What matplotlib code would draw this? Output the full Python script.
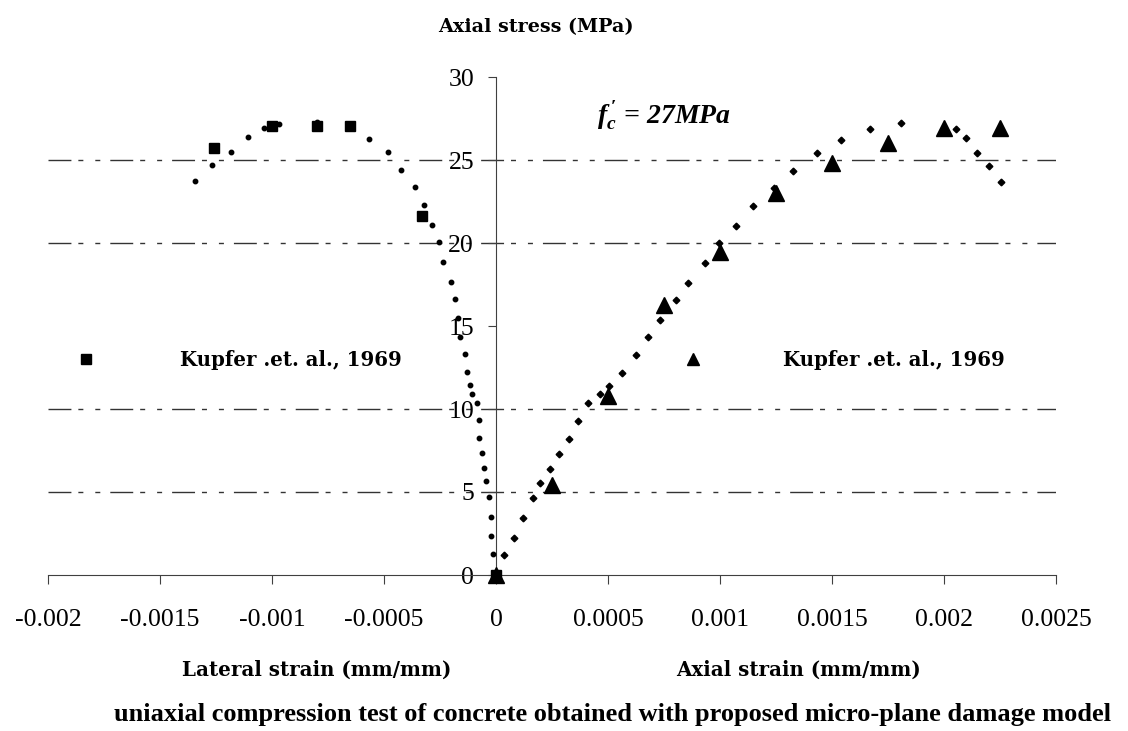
import matplotlib
matplotlib.use("Agg")
import matplotlib.pyplot as plt
from matplotlib.lines import Line2D

# data ==================================================================
# model, lateral strain branch (small round dots)
lat_model_x = [0, -0.000012, -0.000021, -0.000022, -0.000033, -0.000043, -0.000054,
               -0.000064, -0.000075, -0.000075, -0.000086, -0.000106, -0.000117,
               -0.000128, -0.000138, -0.000159, -0.00017, -0.000182, -0.000202,
               -0.000235, -0.000254, -0.000287, -0.00032, -0.000362, -0.000425,
               -0.000481, -0.000567, -0.0008, -0.000969, -0.001034, -0.001108,
               -0.001184, -0.001269, -0.001344]
lat_model_y = [0, 1.27, 2.35, 3.51, 4.70, 5.66, 6.43, 7.37, 8.27, 9.34, 10.38, 10.90,
               11.45, 12.25, 13.30, 14.36, 15.46, 16.61, 17.67, 18.86, 20.06, 21.10,
               22.29, 23.36, 24.42, 25.46, 26.27, 27.29, 27.19, 26.93, 26.39, 25.46,
               24.68, 23.75]

# model, axial strain branch (small diamonds)
ax_model_x = [0, 0.000037, 0.000079, 0.000122, 0.000165, 0.000198, 0.00024, 0.000283,
              0.000325, 0.000367, 0.000411, 0.000463, 0.000506, 0.000561, 0.000624,
              0.000679, 0.000731, 0.000805, 0.000858, 0.000933, 0.000997, 0.001071,
              0.001146, 0.00124, 0.001327, 0.001434, 0.001541, 0.00167, 0.001809,
              0.002053, 0.002097, 0.002149, 0.002202, 0.002256]
ax_model_y = [0, 1.20, 2.25, 3.45, 4.64, 5.56, 6.37, 7.29, 8.21, 9.28, 10.34, 10.89,
              11.39, 12.19, 13.24, 14.32, 15.36, 16.57, 17.61, 18.81, 20.02, 21.04,
              22.25, 23.31, 24.36, 25.42, 26.19, 26.85, 27.25, 26.85, 26.33, 25.40,
              24.62, 23.67]

# Kupfer et al. 1969 test points
kup_lat_x = [0, -0.00033, -0.00065, -0.0008, -0.001, -0.00126]
kup_lat_y = [0, 21.6, 27.05, 27.05, 27.05, 25.7]
kup_ax_x = [0, 0.00025, 0.0005, 0.00075, 0.001, 0.00125, 0.0015, 0.00175, 0.002, 0.00225]
kup_ax_y = [0, 5.42, 10.8, 16.27, 19.48, 22.99, 24.84, 26.04, 26.95, 26.95]

x_ticks = [-0.002, -0.0015, -0.001, -0.0005, 0, 0.0005, 0.001, 0.0015, 0.002, 0.0025]
x_labels = ["-0.002", "-0.0015", "-0.001", "-0.0005", "0", "0.0005", "0.001",
            "0.0015", "0.002", "0.0025"]
y_ticks = [0, 5, 10, 15, 20, 25, 30]
grid_levels = [5, 10, 20, 25]

# figure ================================================================
plt.rcParams['mathtext.fontset'] = 'custom'
plt.rcParams['mathtext.it'] = 'Liberation Serif:italic:bold'
plt.rcParams['mathtext.rm'] = 'Liberation Serif:bold'

W, H = 1128, 731
fig = plt.figure(figsize=(W / 100, H / 100), dpi=100)
ax = fig.add_axes([48 / W, 156 / H, 1008 / W, 498 / H])

spine_col = '#404040'
ax.set_xlim(-0.002, 0.0025)
ax.set_ylim(0, 30)
for s in ['top', 'right']:
    ax.spines[s].set_visible(False)
ax.spines['left'].set_position(('data', 0))
ax.spines['bottom'].set_color(spine_col)
ax.spines['left'].set_color(spine_col)

ax.set_xticks(x_ticks)
ax.set_xticklabels(x_labels, family='Liberation Serif', fontsize=18.5)
ax.set_yticks(y_ticks)
ax.set_yticklabels([str(v) for v in y_ticks], family='Liberation Serif', fontsize=18.5)
ax.tick_params(axis='x', direction='out', length=6.5, pad=18, color=spine_col)
ax.tick_params(axis='y', direction='out', length=5.8, pad=10, color=spine_col)

# dash-dot-dot gridlines
for g in grid_levels:
    ax.axhline(g, color='#333333', lw=1, dashes=(16.5, 5, 3.6, 8.6, 3.6, 7.2), zorder=1)

ax.plot(lat_model_x, lat_model_y, ls='none', marker='o', ms=3.2, color='black',
        zorder=3, clip_on=False)
ax.plot(ax_model_x, ax_model_y, ls='none', marker='D', ms=3.4, color='black',
        zorder=3, clip_on=False)
ax.plot(kup_lat_x, kup_lat_y, ls='none', marker='s', ms=7, color='black',
        zorder=4, clip_on=False)
ax.plot(kup_ax_x, kup_ax_y, ls='none', marker='^', ms=12, color='black',
        zorder=5, clip_on=False)

# Excel style legends, one per side
bold_serif = {'family': 'DejaVu Serif', 'weight': 'bold', 'size': 14.2}
h_sq = Line2D([], [], ls='none', marker='s', ms=6.5, color='black')
h_tri = Line2D([], [], ls='none', marker='^', ms=8, color='black')
fs_px = 14.2 * 100 / 72
fig.legend(handles=[h_sq], labels=['Kupfer .et. al., 1969'], loc='center left',
           bbox_to_anchor=((86 - fs_px) / W, 1 - 360 / H), frameon=False, prop=bold_serif,
           handlelength=2, handletextpad=(180 - 86 - fs_px) / fs_px,
           borderpad=0, borderaxespad=0)
fig.legend(handles=[h_tri], labels=['Kupfer .et. al., 1969'], loc='center left',
           bbox_to_anchor=((693 - fs_px) / W, 1 - 360 / H), frameon=False, prop=bold_serif,
           handlelength=2, handletextpad=(783 - 693 - fs_px) / fs_px,
           borderpad=0, borderaxespad=0)

# texts
fig.text(536 / W, 1 - 27 / H, 'Axial stress (MPa)', ha='center', va='center',
         family='DejaVu Serif', weight='bold', fontsize=13.8)
fig.text(664 / W, 1 - 115 / H, r"$\mathit{f}_{\mathit{c}}^{\,\prime}$ = 27MPa",
         ha='center', va='center', fontsize=20, family='Liberation Serif',
         style='italic', weight='bold')
fig.text(317 / W, 1 - 670 / H, 'Lateral strain (mm/mm)', ha='center', va='center',
         family='DejaVu Serif', weight='bold', fontsize=14.3)
fig.text(798 / W, 1 - 670 / H, 'Axial strain (mm/mm)', ha='center', va='center',
         family='DejaVu Serif', weight='bold', fontsize=14.3)
fig.text(613 / W, 1 - 714 / H,
         'uniaxial compression test of concrete obtained with proposed micro-plane damage model',
         ha='center', va='center', family='Liberation Serif', weight='bold', fontsize=19)

fig.savefig('out.png', dpi=100)
